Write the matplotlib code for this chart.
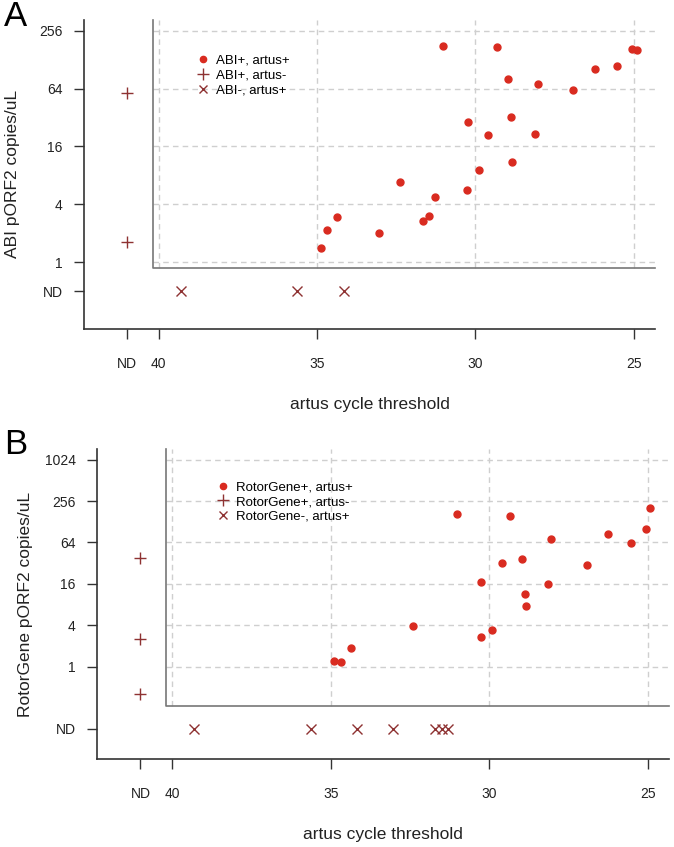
import matplotlib
matplotlib.use("Agg")
import matplotlib.pyplot as plt
from matplotlib.lines import Line2D

plt.rcParams['font.family'] = ['Liberation Sans', 'DejaVu Sans']

# panel A: ABI vs artus
abi_ct = [31.02, 29.32, 25.06, 24.90, 26.23, 25.54, 28.97, 28.04, 26.91, 30.24, 28.87, 29.59,
          28.12, 28.84, 29.89, 30.26, 32.39, 31.28, 31.47, 31.67, 33.03, 34.37, 34.69, 34.88]
abi_copies = [176, 172, 165, 162, 103, 110, 80, 71, 62.5, 29, 32, 20.8,
              21.3, 11.1, 9.1, 5.6, 6.8, 4.8, 3.0, 2.65, 2.0, 2.95, 2.17, 1.39]
abi_only_copies = [57, 1.61]           # ABI+, artus- (artus ND)
abi_neg_ct = [39.29, 35.62, 34.16]     # ABI-, artus+ (ABI ND)

# panel B: RotorGene vs artus
rg_ct = [31.02, 29.33, 24.93, 25.07, 26.26, 25.54, 28.05, 28.97, 29.59, 26.92,
         30.25, 28.14, 28.88, 28.85, 32.39, 29.90, 30.27, 34.36, 34.89, 34.69]
rg_copies = [167, 153, 202, 102, 86, 63, 71, 37, 31.8, 30,
             16.8, 16, 11.4, 7.7, 3.9, 3.4, 2.7, 1.84, 1.2, 1.17]
rg_only_copies = [38, 2.56, 0.405]
rg_neg_ct = [39.31, 35.62, 34.16, 33.04, 31.70, 31.50, 31.30]

x_ticks = [41, 40, 35, 30, 25]
x_labels = ['ND', '40', '35', '30', '25']

ytick_a = [0.5, 1, 4, 16, 64, 256]
ylab_a = ['ND', '1', '4', '16', '64', '256']
ytick_b = [0.125, 1, 4, 16, 64, 256, 1024]
ylab_b = ['ND', '1', '4', '16', '64', '256', '1024']

red = '#d92b20'
dred = '#8e3232'
W, H = 674, 847

fig = plt.figure(figsize=(W / 100, H / 100), dpi=100)


def panel(rect, ct, copies, only_copies, neg_ct, nd_y, yticks, ylabels, ylim,
          inner_y, ylabel, names, letter, letter_xy, leg_xy):
    ax = fig.add_axes(rect)
    ax.set_yscale('log', base=2)
    ax.set_xlim(42.36, 24.33)
    ax.set_ylim(*ylim)
    inner_x = 40.18

    # dashed grid only inside the inner L
    for xv in x_ticks[1:]:
        ax.plot([xv, xv], [inner_y, ylim[1]], color='#cfcfcf', lw=1.0,
                dashes=(4, 3), zorder=1)
    for yv in yticks[1:]:
        ax.plot([inner_x, 24.33], [yv, yv], color='#cfcfcf', lw=1.0,
                dashes=(4, 3), zorder=1)
    ax.plot([inner_x, inner_x, 24.33], [ylim[1], inner_y, inner_y],
            color='#777777', lw=1.2, zorder=2, clip_on=False)

    ax.plot(ct, copies, 'o', color=red, ms=5, mec=red, zorder=3)
    ax.plot([41] * len(only_copies), only_copies, '+', color=dred, ms=9,
            mew=1.0, zorder=3)
    ax.plot(neg_ct, [nd_y] * len(neg_ct), 'x', color=dred, ms=6.5,
            mew=1.0, zorder=3)

    ax.set_xticks(x_ticks)
    ax.set_xticklabels(x_labels)
    ax.set_yticks(yticks)
    ax.set_yticklabels(ylabels)
    ax.minorticks_off()
    ax.tick_params(axis='both', length=7.5, width=1.0, color='#333333',
                   labelsize=10, labelcolor='#222222')
    ax.tick_params(axis='x', pad=13)
    ax.tick_params(axis='y', pad=8)
    for s in ['top', 'right']:
        ax.spines[s].set_visible(False)
    for s in ['left', 'bottom']:
        ax.spines[s].set_color('#333333')
        ax.spines[s].set_linewidth(1.2)

    ax.set_xlabel('artus cycle threshold', fontsize=12.5, color='#222222')
    ax.xaxis.set_label_coords(0.5, -0.22)
    ax.set_ylabel(ylabel, fontsize=12.5, color='#222222')
    ax.yaxis.set_label_coords(-0.112, 0.5)

    handles = [Line2D([], [], ls='none', marker='o', color=red, ms=4.5),
               Line2D([], [], ls='none', marker='+', color=dred, ms=9, mew=1.0),
               Line2D([], [], ls='none', marker='x', color=dred, ms=6, mew=1.0)]
    ax.legend(handles, names, loc='upper left',
              bbox_to_anchor=(leg_xy[0] / W, 1 - leg_xy[1] / H),
              bbox_transform=fig.transFigure, frameon=False, fontsize=9.5,
              borderpad=0, borderaxespad=0, handlelength=0.8,
              handletextpad=0.6, labelspacing=0.2)

    fig.text(letter_xy[0] / W, 1 - letter_xy[1] / H, letter, fontsize=25,
             ha='center', va='center')
    return ax


panel([84 / W, 1 - 328.7 / H, 571 / W, 308.7 / H],
      abi_ct, abi_copies, abi_only_copies, abi_neg_ct, 0.5,
      ytick_a, ylab_a, (2 ** -2.3, 2 ** 8.37), 0.865,
      'ABI pORF2 copies/uL',
      ['ABI+, artus+', 'ABI+, artus-', 'ABI-, artus+'],
      'A', (15, 17), (197.5, 54.5))

panel([97.3 / W, 1 - 759 / H, 571.7 / W, 310 / H],
      rg_ct, rg_copies, rg_only_copies, rg_neg_ct, 0.125,
      ytick_b, ylab_b, (2 ** -4.47, 2 ** 10.52), 0.268,
      'RotorGene pORF2 copies/uL',
      ['RotorGene+, artus+', 'RotorGene+, artus-', 'RotorGene-, artus+'],
      'B', (16, 444), (217.5, 481))

fig.savefig('out.png', dpi=100)
